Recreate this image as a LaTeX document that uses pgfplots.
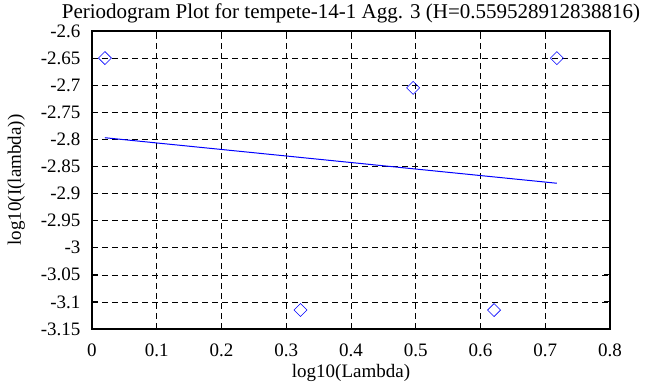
\documentclass[border=0pt]{standalone}
\usepackage{pgfplots}
\pgfplotsset{compat=1.18}
\usepackage{fontspec}
\setmainfont{Liberation Serif}
\begin{document}
\begin{tikzpicture}[x=1pt,y=1pt]
\path[use as bounding box] (-92,-58) rectangle (576,329);
\begin{axis}[
  at={(0,0)}, anchor=south west,
  scale only axis, width=518pt, height=298pt,
  xmin=0, xmax=0.8, ymin=-3.15, ymax=-2.6,
  xtick={0,0.1,...,0.8},
  ytick={-3.15,-3.1,...,-2.6},
  /pgf/number format/assume math mode=true,
  /pgf/number format/fixed,
  /pgf/number format/precision=2,
  tick align=inside,
  major tick length=6pt,
  tick style={black, line width=1pt},
  axis line style={line width=1.5pt},
  grid=major,
  major grid style={black, dash pattern=on 6pt off 4pt, line width=0.6pt},
  font=\fontsize{19}{22}\selectfont,
  xticklabel style={yshift=-11pt},
  yticklabel style={xshift=-8pt},
  title={Periodogram Plot for tempete-14-1 Agg. 3 (H=0.559528912838816)},
  title style={at={(0.5,1)}, yshift=-2pt, font=\fontsize{21}{24}\selectfont},
  xlabel={log10(Lambda)},
  ylabel={log10(I(lambda))},
  xlabel style={yshift=-1pt},
  ylabel style={yshift=9pt},
  clip=false,
]
\addplot[only marks, mark=square, mark size=4.6pt, blue, mark options={rotate=45, line width=0.6pt}] coordinates {
  (0.020,-2.650)
  (0.322,-3.115)
  (0.496,-2.705)
  (0.621,-3.115)
  (0.718,-2.650)
};
\addplot[blue, line width=1pt] coordinates {
  (0.020,-2.797)
  (0.718,-2.881)
};
\end{axis}
\end{tikzpicture}
\end{document}
